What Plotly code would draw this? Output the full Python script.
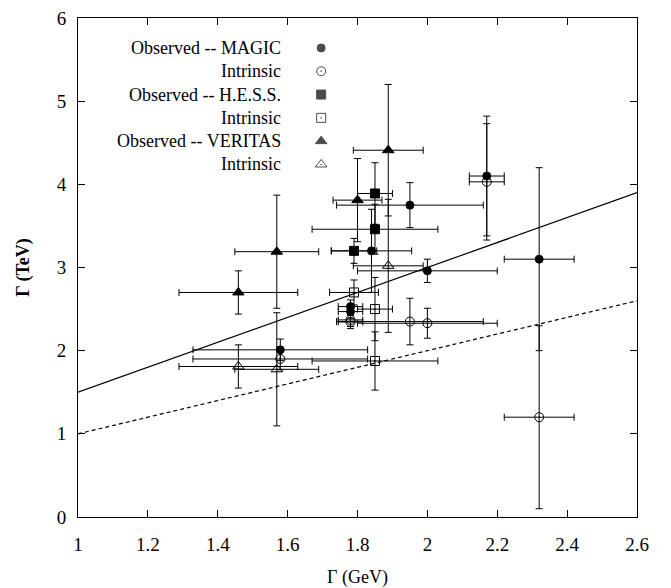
import plotly.graph_objects as go

# ---- MAGIC ----
magic_obs_x = [1.579, 1.78, 1.78, 1.84, 1.95, 2.00, 2.17, 2.32]
magic_obs_y = [2.01, 2.53, 2.47, 3.20, 3.75, 2.96, 4.10, 3.10]
magic_obs_xerr = [0.25, 0.035, 0.035, 0.115, 0.21, 0.20, 0.05, 0.10]
magic_obs_yerr = [0.13, 0.08, 0.08, 0.50, 0.27, 0.14, 0.72, 1.10]

magic_int_x = [1.579, 1.78, 1.78, 1.95, 2.00, 2.17, 2.32]
magic_int_y = [1.90, 2.37, 2.345, 2.35, 2.33, 4.03, 1.20]
magic_int_xerr = [0.25, 0.035, 0.035, 0.21, 0.20, 0.05, 0.10]
magic_int_yerr = [0.13, 0.08, 0.08, 0.28, 0.18, 0.70, 1.10]

# ---- H.E.S.S. ----
hess_obs_x = [1.79, 1.85, 1.85]
hess_obs_y = [3.20, 3.89, 3.46]
hess_obs_xerr = [0.065, 0.05, 0.18]
hess_obs_yerr = [0.15, 0.37, 0.30]

hess_int_x = [1.79, 1.85, 1.85]
hess_int_y = [2.70, 2.50, 1.876]
hess_int_xerr = [0.07, 0.05, 0.18]
hess_int_yerr = [0.15, 0.38, 0.35]

# ---- VERITAS ----
veritas_obs_x = [1.888, 1.80, 1.569, 1.459]
veritas_obs_y = [4.41, 3.81, 3.19, 2.70]
veritas_obs_xerr = [0.10, 0.07, 0.12, 0.17]
veritas_obs_yerr = [0.79, 0.50, 0.68, 0.26]

veritas_int_x = [1.888, 1.569, 1.459]
veritas_int_y = [3.02, 1.776, 1.81]
veritas_int_xerr = [0.10, 0.12, 0.17]
veritas_int_yerr = [0.80, 0.68, 0.26]

# reference lines
line_x = [1.0, 2.6]
solid_y = [1.5, 3.9]
dashed_y = [1.0, 2.6]

x_ticks = [1, 1.2, 1.4, 1.6, 1.8, 2, 2.2, 2.4, 2.6]
y_ticks = [0, 1, 2, 3, 4, 5, 6]

legend_labels = ["Observed -- MAGIC", "Intrinsic", "Observed -- H.E.S.S.",
                 "Intrinsic", "Observed -- VERITAS", "Intrinsic"]
legend_symbols = ["circle", "circle-open-dot", "square", "square-open-dot",
                  "triangle-up", "triangle-up-open-dot"]

FONT = "Liberation Serif, Times New Roman, serif"
INK = "black"

fig = go.Figure()

fig.add_trace(go.Scatter(x=line_x, y=solid_y, mode="lines",
                         line=dict(color=INK, width=1.2), showlegend=False,
                         hoverinfo="skip"))
fig.add_trace(go.Scatter(x=line_x, y=dashed_y, mode="lines",
                         line=dict(color=INK, width=1.2, dash="4px,3px"),
                         showlegend=False, hoverinfo="skip"))


def add_series(xs, ys, xe, ye, symbol, size):
    fig.add_trace(go.Scatter(
        x=xs, y=ys, mode="markers",
        marker=dict(symbol=symbol, size=size, color=INK,
                    line=dict(color=INK, width=1)),
        error_x=dict(type="data", array=xe, color=INK, thickness=1, width=3.5),
        error_y=dict(type="data", array=ye, color=INK, thickness=1, width=3.5),
        showlegend=False,
    ))


add_series(magic_int_x, magic_int_y, magic_int_xerr, magic_int_yerr, "circle-open-dot", 9)
add_series(hess_int_x, hess_int_y, hess_int_xerr, hess_int_yerr, "square-open-dot", 9)
add_series(veritas_int_x, veritas_int_y, veritas_int_xerr, veritas_int_yerr, "triangle-up-open-dot", 10)
add_series(magic_obs_x, magic_obs_y, magic_obs_xerr, magic_obs_yerr, "circle", 8)
add_series(hess_obs_x, hess_obs_y, hess_obs_xerr, hess_obs_yerr, "square", 9)
add_series(veritas_obs_x, veritas_obs_y, veritas_obs_xerr, veritas_obs_yerr, "triangle-up", 10)

# key: right-aligned labels with the symbol to their right
key_text_x = 0.367
key_mark_x = 0.435
key_top = 0.940
key_step = 0.0467
key_rows = [key_top - i * key_step for i in range(len(legend_labels))]

fig.add_trace(go.Scatter(
    x=[key_mark_x] * len(key_rows), y=key_rows, xaxis="x2", yaxis="y2",
    mode="markers",
    marker=dict(symbol=legend_symbols, size=[8, 9, 9, 9, 10, 10], color=INK,
                line=dict(color=INK, width=1)),
    showlegend=False, hoverinfo="skip",
))
for label, yy in zip(legend_labels, key_rows):
    fig.add_annotation(x=key_text_x, y=yy, xref="paper", yref="paper",
                       text=label, showarrow=False, xanchor="right",
                       yanchor="middle", font=dict(family=FONT, size=18, color=INK))

axis_common = dict(showline=True, linecolor=INK, linewidth=1, mirror="ticks",
                   ticks="inside", ticklen=7, tickcolor=INK, showgrid=False,
                   zeroline=False, automargin=False,
                   tickfont=dict(family=FONT, size=19, color=INK))

fig.update_layout(
    width=671, height=588,
    margin=dict(l=78, r=34, t=18, b=71),
    paper_bgcolor="white", plot_bgcolor="white",
    showlegend=False,
    xaxis=dict(range=[1, 2.6], tickvals=x_ticks, ticklabelstandoff=10,
               title=dict(text="Γ (GeV)", font=dict(family=FONT, size=18, color=INK),
                          standoff=16),
               **axis_common),
    yaxis=dict(range=[0, 6], tickvals=y_ticks, ticklabelstandoff=7,
               title=dict(text="<b>Γ (TeV)</b>", font=dict(family=FONT, size=18, color=INK),
                          standoff=22),
               **axis_common),
    xaxis2=dict(overlaying="x", range=[0, 1], visible=False, anchor="y2"),
    yaxis2=dict(overlaying="y", range=[0, 1], visible=False, anchor="x2"),
)

fig.write_html("out.html")
